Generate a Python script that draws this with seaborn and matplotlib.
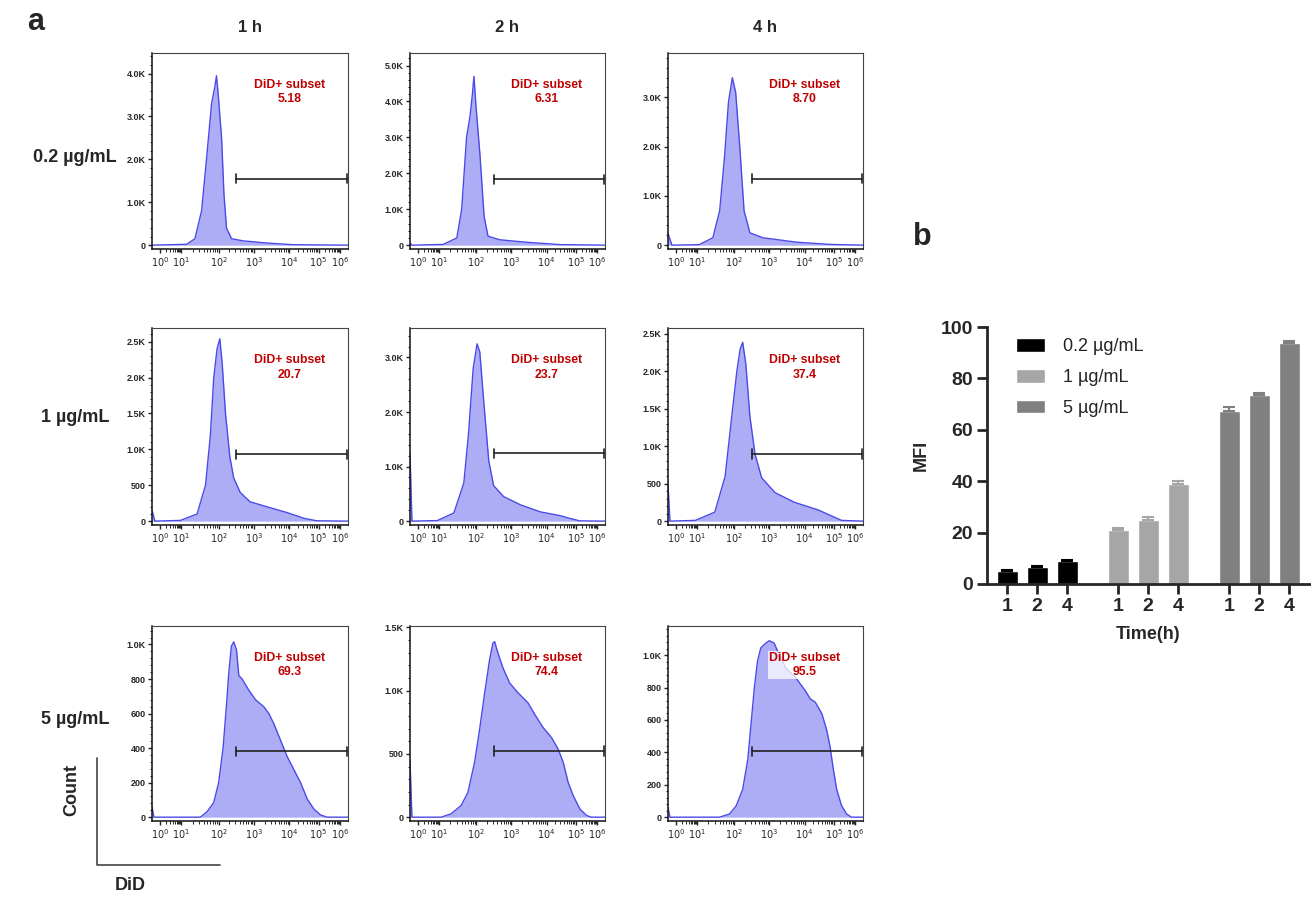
import matplotlib.pyplot as plt
import numpy as np
import pandas as pd
import seaborn as sns
from matplotlib.lines import Line2D
from matplotlib.ticker import FixedLocator, FuncFormatter

# ------------------------------------------------------------------
# histogram curves (x = position along DiD axis, % of axis width; y = count)
# ------------------------------------------------------------------
x_02_1h = [0, 17.7, 21.9, 25.3, 27.8, 30.4, 32.1, 32.9, 33.8, 35.5, 36.7, 38.0, 40.6, 46.5, 58.4, 72.0, 100]
y_02_1h = [0, 20, 150, 800, 2000, 3300, 3700, 3950, 3500, 2500, 1200, 400, 150, 100, 50, 10, 0]

x_02_2h = [0, 1, 17, 24, 26.5, 29, 30.8, 32, 32.8, 33.8, 35.9, 38, 40, 46, 60, 77, 100]
y_02_2h = [60, 0, 20, 200, 1000, 3000, 3600, 4200, 4700, 3900, 2500, 800, 250, 150, 80, 15, 0]

x_02_4h = [0, 2, 16, 23, 26.5, 29, 31, 33, 34.7, 36.8, 39, 42, 48.7, 66, 83, 100]
y_02_4h = [240, 0, 10, 150, 700, 1800, 2900, 3400, 3100, 2000, 700, 250, 150, 60, 15, 0]

x_1_1h = [0, 1.5, 14.5, 23, 27.3, 29.8, 31.5, 33.2, 34.6, 35.8, 37.5, 39.7, 41.7, 45, 50, 58.6, 68.8, 77.5, 84, 100]
y_1_1h = [150, 0, 10, 100, 500, 1200, 2000, 2400, 2540, 2200, 1500, 900, 600, 400, 270, 200, 120, 40, 5, 0]

x_1_2h = [0, 1, 14, 22.5, 27.6, 30, 32.4, 34.4, 35.8, 37.8, 40.4, 42.9, 48, 56.6, 66.8, 77, 82, 87, 100]
y_1_2h = [1250, 0, 10, 150, 700, 1600, 2800, 3250, 3100, 2200, 1100, 650, 450, 300, 170, 100, 50, 5, 0]

x_1_4h = [0, 1, 14, 24, 29.3, 32.7, 35.3, 37, 38.3, 39.9, 42, 44.6, 48, 54.9, 65, 77, 83.8, 89, 100]
y_1_4h = [500, 0, 10, 120, 600, 1400, 2000, 2300, 2390, 2100, 1400, 900, 580, 380, 250, 150, 70, 10, 0]

x_5_1h = [0, 1, 24.7, 28.1, 31.5, 34, 36.3, 38, 39.2, 40.5, 41.7, 43.1, 44.3, 46, 49.4, 52.8, 57,
          59.6, 62.2, 65.6, 69, 72.4, 75.8, 79.2, 82.6, 86, 89.4, 100]
y_5_1h = [60, 0, 0, 32, 85, 200, 405, 650, 840, 990, 1015, 970, 820, 800, 735, 680, 640,
          600, 540, 445, 350, 275, 200, 105, 47, 13, 0, 0]

x_5_2h = [0, 1, 16, 21, 26.2, 29.7, 33.1, 35.7, 38.3, 40.8, 42.5, 43.4, 45.1, 47.7, 51.1, 55.4,
          60.5, 64, 68.3, 72.6, 76, 78.6, 81.1, 83.7, 87.1, 90.6, 93, 100]
y_5_2h = [450, 0, 0, 26, 92, 196, 432, 694, 982, 1243, 1374, 1387, 1296, 1178, 1060, 982,
          903, 811, 707, 628, 537, 432, 275, 170, 65, 13, 0, 0]

x_5_4h = [0, 1, 26.5, 31.6, 35, 38.3, 40.9, 42.6, 44.3, 45.9, 47.6, 50.2, 51.9, 54.4, 57, 60.3,
          65.4, 70.4, 73, 75.5, 78.9, 81.4, 83.1, 84.8, 86.5, 89, 91.6, 94, 100]
y_5_4h = [60, 0, 0, 20, 71, 172, 355, 578, 801, 963, 1045, 1075, 1089, 1075, 1004, 923,
          862, 781, 730, 710, 639, 537, 436, 294, 172, 71, 20, 0, 0]

hist_x = [[x_02_1h, x_02_2h, x_02_4h], [x_1_1h, x_1_2h, x_1_4h], [x_5_1h, x_5_2h, x_5_4h]]
hist_y = [[y_02_1h, y_02_2h, y_02_4h], [y_1_1h, y_1_2h, y_1_4h], [y_5_1h, y_5_2h, y_5_4h]]

subset_pct = [['5.18', '6.31', '8.70'], ['20.7', '23.7', '37.4'], ['69.3', '74.4', '95.5']]
gate_y = [[1550, 1830, 1350], [930, 1240, 893], [381, 523, 406]]
hist_ymax = [[4480, 5350, 3900], [2690, 3540, 2580], [1107, 1510, 1180]]
hist_ystep = [[1000, 1000, 1000], [500, 1000, 500], [200, 500, 200]]

row_labels = ['0.2 µg/mL', '1 µg/mL', '5 µg/mL']
col_labels = ['1 h', '2 h', '4 h']
decade_labels = [r'$10^{0}$', r'$10^{1}$', r'$10^{2}$', r'$10^{3}$', r'$10^{4}$', r'$10^{5}$', r'$10^{6}$']
decade_pos = [4, 15, 34, 52, 70, 85, 96]

# ------------------------------------------------------------------
# bar chart (MFI)
# ------------------------------------------------------------------
time_labels = ['1', '2', '4']
conc_labels = ['0.2 µg/mL', '1 µg/mL', '5 µg/mL']
mfi_02 = [4.9, 6.6, 8.8]
mfi_1 = [21.1, 25.0, 38.9]
mfi_5 = [67.4, 73.4, 93.8]
sem_02 = [0.7, 0.5, 0.4]
sem_1 = [0.8, 1.1, 1.1]
sem_5 = [1.3, 0.9, 0.7]

bar_colors = {'0.2 µg/mL': '#000000', '1 µg/mL': '#a6a6a8', '5 µg/mL': '#808080'}

rows = []
for g, (conc, vals, errs) in enumerate(zip(conc_labels, [mfi_02, mfi_1, mfi_5], [sem_02, sem_1, sem_5])):
    for i, (t, v, e) in enumerate(zip(time_labels, vals, errs)):
        rows.append({'conc': conc, 'time': t, 'mfi': v, 'sem': e, 'pos': g * 3.7 + i})
df_bar = pd.DataFrame(rows)

# ------------------------------------------------------------------
sns.set_style('ticks')
plt.rcParams['font.family'] = ['Liberation Sans', 'DejaVu Sans']

W, H = 1311, 898
fig = plt.figure(figsize=(W / 100, H / 100), dpi=100)


def px_axes(l, t, r, b):
    return fig.add_axes([l / W, 1 - b / H, (r - l) / W, (b - t) / H])


col_px = [(152, 348), (410, 605), (668, 863)]
row_px = [(53, 249), (328, 525), (626, 821)]

fill_col = '#adadf6'
edge_col = '#4a4ae8'

minor_x = []
for a, b in zip(decade_pos[:-1], decade_pos[1:]):
    minor_x += [a + (b - a) * np.log10(k) for k in range(2, 10)]


def kfmt(v, _):
    if v >= 1000:
        return f'{v / 1000:.1f}K'
    return f'{int(v)}'


for r in range(3):
    for c in range(3):
        ax = px_axes(col_px[c][0], row_px[r][0], col_px[c][1], row_px[r][1])
        xs, ys = hist_x[r][c], hist_y[r][c]
        ax.fill_between(xs, ys, 0, color=fill_col, lw=0)
        sns.lineplot(x=xs, y=ys, sort=False, color=edge_col, lw=1.0, ax=ax)
        ymax = hist_ymax[r][c]
        ax.set_xlim(0, 100)
        ax.set_ylim(-0.02 * ymax, ymax)
        step = hist_ystep[r][c]
        ax.yaxis.set_major_locator(FixedLocator(np.arange(0, ymax, step)))
        ax.yaxis.set_minor_locator(FixedLocator(np.arange(0, ymax, step / 5)))
        ax.yaxis.set_major_formatter(FuncFormatter(kfmt))
        ax.set_xticks(decade_pos)
        ax.set_xticklabels(decade_labels)
        ax.xaxis.set_minor_locator(FixedLocator(minor_x))
        ax.tick_params(axis='y', labelsize=6.5, length=3, width=1, pad=1.5)
        ax.tick_params(axis='x', labelsize=7, length=3, width=1, pad=1.5)
        ax.tick_params(which='minor', length=1.8, width=0.7)
        for lab in ax.get_yticklabels():
            lab.set_fontweight('bold')
        for s in ['left', 'bottom']:
            ax.spines[s].set_linewidth(1.1)
            ax.spines[s].set_color('#111111')
        for s in ['top', 'right']:
            ax.spines[s].set_linewidth(0.8)
            ax.spines[s].set_color('#444444')
        ax.set_xlabel('')
        ax.set_ylabel('')
        # gate
        gy = gate_y[r][c]
        ax.plot([43, 99.5], [gy, gy], color='#222222', lw=1.2)
        ax.plot([43, 43], [gy - 0.025 * ymax, gy + 0.025 * ymax], color='#222222', lw=1.2)
        ax.plot([99.5, 99.5], [gy - 0.025 * ymax, gy + 0.025 * ymax], color='#222222', lw=1.2)
        ax.text(0.70, 0.80, f'DiD+ subset\n{subset_pct[r][c]}', transform=ax.transAxes,
                ha='center', va='center', color='#c00000', fontsize=8.8, fontweight='bold',
                linespacing=1.25,
                bbox=dict(facecolor='white', edgecolor='none', alpha=0.75, pad=0.5))

# headers and labels
fig.text(36 / W, 1 - 22 / H, 'a', fontsize=22, fontweight='bold', ha='center', va='center')
fig.text(922 / W, 1 - 237 / H, 'b', fontsize=22, fontweight='bold', ha='center', va='center')
for c, lab in enumerate(col_labels):
    fig.text((col_px[c][0] + col_px[c][1]) / 2 / W, 1 - 27 / H, lab, fontsize=12,
             fontweight='bold', ha='center', va='center')
for r, (lab, yp) in enumerate(zip(row_labels, [158, 418, 720])):
    fig.text(75 / W, 1 - yp / H, lab, fontsize=13, fontweight='bold', ha='center', va='center')

fig.text(72 / W, 1 - 790 / H, 'Count', rotation=90, fontsize=13, fontweight='bold',
         ha='center', va='center')
fig.text(130 / W, 1 - 886 / H, 'DiD', fontsize=13, fontweight='bold', ha='center', va='center')
fig.add_artist(Line2D([97 / W, 97 / W, 220 / W], [1 - 758 / H, 1 - 865 / H, 1 - 865 / H],
                      transform=fig.transFigure, color='#444444', lw=1.2))

# bar chart
axb = px_axes(987, 327, 1310, 584)
sns.barplot(data=df_bar, x='pos', y='mfi', hue='conc', hue_order=conc_labels,
            palette=bar_colors, native_scale=True, dodge=False, width=0.7,
            errorbar=None, saturation=1, ax=axb)
for conc in conc_labels:
    sub = df_bar[df_bar['conc'] == conc]
    axb.errorbar(sub['pos'], sub['mfi'], yerr=[np.zeros(len(sub)), sub['sem']],
                 fmt='none', ecolor=bar_colors[conc], elinewidth=1.5, capsize=4, capthick=1.5)
axb.set_xlim(-0.67, 10.1)
axb.set_ylim(0, 100)
axb.set_yticks(range(0, 101, 20))
axb.set_xticks(df_bar['pos'])
axb.set_xticklabels(df_bar['time'])
for lab in axb.get_xticklabels() + axb.get_yticklabels():
    lab.set_fontweight('bold')
axb.tick_params(labelsize=14, length=7, width=2, pad=3)
for s in ['left', 'bottom']:
    axb.spines[s].set_linewidth(2)
sns.despine(ax=axb)
axb.set_ylabel('MFI', fontsize=13, fontweight='bold', labelpad=8)
axb.set_xlabel('Time(h)', fontsize=13, fontweight='bold', labelpad=8)
axb.legend(loc='upper left', bbox_to_anchor=(0.04, 1.02), frameon=False, fontsize=13,
           handlelength=1.6, handleheight=0.8, labelspacing=0.75, handletextpad=1.0)

fig.savefig('out.png', dpi=100)
